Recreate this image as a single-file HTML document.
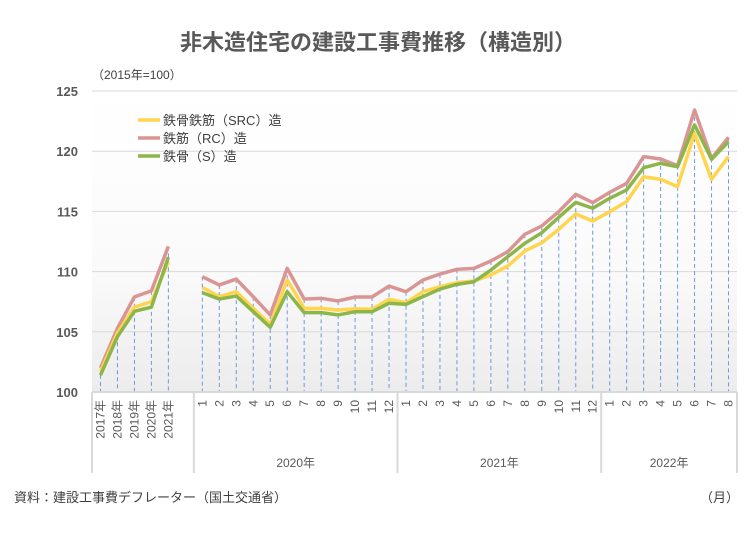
<!DOCTYPE html>
<html><head><meta charset="utf-8"><style>
body{margin:0;background:#fff;}
svg text{font-family:"Liberation Sans","Noto Sans CJK JP",sans-serif;}
</style></head><body>
<svg width="756" height="529" xmlns="http://www.w3.org/2000/svg">
<defs><linearGradient id="bg" x1="0" y1="0" x2="0" y2="1">
<stop offset="0" stop-color="#ffffff"/><stop offset="0.6" stop-color="#fafafa"/><stop offset="1" stop-color="#ececec"/></linearGradient></defs>
<rect x="0" y="0" width="756" height="529" fill="#fff"/>
<rect x="92" y="91" width="645" height="301" fill="url(#bg)"/>
<text x="378" y="50" text-anchor="middle" font-size="22" font-weight="bold" fill="#595959">非木造住宅の建設工事費推移（構造別）</text>
<text x="92" y="79" font-size="12" fill="#404040">（2015年=100）</text>
<g id="grid"></g><g id="drops"></g><g id="series"></g><g id="xaxis"></g>
<g>
<line x1="138" y1="120" x2="160" y2="120" stroke="#FFD54F" stroke-width="3.5"/>
<text x="163" y="125" font-size="13" fill="#404040">鉄骨鉄筋（SRC）造</text>
<line x1="138" y1="138" x2="160" y2="138" stroke="#D99594" stroke-width="3.5"/>
<text x="163" y="143" font-size="13" fill="#404040">鉄筋（RC）造</text>
<line x1="138" y1="156" x2="160" y2="156" stroke="#8DB64A" stroke-width="3.5"/>
<text x="163" y="161" font-size="13" fill="#404040">鉄骨（S）造</text>
</g>
<text x="14" y="502" font-size="13" fill="#404040">資料：建設工事費デフレーター（国土交通省）</text>
<text x="700" y="502" font-size="13" fill="#404040">（月）</text>
</svg>
<script>
const annualLabels=["2017年","2018年","2019年","2020年","2021年"];
const monthLabels=["1","2","3","4","5","6","7","8","9","10","11","12","1","2","3","4","5","6","7","8","9","10","11","12","1","2","3","4","5","6","7","8"];
const groupLabels=["2020年","2021年","2022年"];
const groupSizes=[12,12,8];
const yTicks=[100,105,110,115,120,125];
const srcAnnual=[101.7,104.9,107.05,107.5,110.8];
const rcAnnual=[102.0,105.3,107.9,108.4,112.1];
const sAnnual=[101.4,104.6,106.7,107.05,111.2];
const srcMonthly=[108.69,107.92,108.33,106.95,105.62,109.3,106.95,106.95,106.81,106.9,106.87,107.7,107.42,108.33,108.75,109.08,109.22,109.72,110.47,111.71,112.4,113.51,114.78,114.2,114.98,115.81,117.88,117.66,117.06,121.48,117.66,119.55];
const rcMonthly=[109.58,108.89,109.38,107.91,106.4,110.27,107.72,107.78,107.56,107.89,107.89,108.8,108.33,109.3,109.8,110.19,110.27,110.88,111.66,113.1,113.79,114.98,116.42,115.73,116.58,117.33,119.55,119.35,118.8,123.42,119.4,121.15];
const sMonthly=[108.25,107.72,107.97,106.67,105.37,108.33,106.59,106.59,106.4,106.67,106.67,107.37,107.28,107.92,108.55,108.94,109.16,110.13,111.24,112.35,113.23,114.51,115.75,115.26,116.09,116.78,118.63,118.99,118.71,122.18,119.33,120.79];

const NS="http://www.w3.org/2000/svg";
const X0=92,X1=737,Y0=392,Y1=91,YMIN=100,YMAX=125;
const nSlots=annualLabels.length+1+monthLabels.length;
const slot=(X1-X0)/nSlots;
const y=v=>Y0-(v-YMIN)/(YMAX-YMIN)*(Y0-Y1);
const xA=i=>X0+slot*(i+0.5);
const xM=i=>X0+slot*(annualLabels.length+1+i+0.5);
function mk(tag,attrs,parent){const e=document.createElementNS(NS,tag);for(const k in attrs)e.setAttribute(k,attrs[k]);document.getElementById(parent).appendChild(e);return e;}

yTicks.forEach(t=>{
 if(t>YMIN){const l=mk("line",{x1:X0,x2:X1,y1:y(t),y2:y(t),stroke:"#d9d9d9","stroke-width":1},"grid");
 
 }
 const tx=mk("text",{x:78,y:y(t)+5,"text-anchor":"end","font-size":"13","font-weight":"bold",fill:"#595959"},"grid");
 tx.textContent=t;
 
 
});

const allSeries=[["src",srcAnnual,srcMonthly,"#FFD54F"],["rc",rcAnnual,rcMonthly,"#D99594"],["s",sAnnual,sMonthly,"#8DB64A"]];
// drop lines to the top series value
function topAt(a,i){return Math.max(...allSeries.map(s=>s[a][i]));}
annualLabels.forEach((_,i)=>{const l=mk("line",{x1:xA(i),x2:xA(i),y1:y(topAt(1,i)),y2:Y0,stroke:"#6f97de","stroke-width":1,"stroke-dasharray":"4,3"},"drops");
 
 });
monthLabels.forEach((_,i)=>{const l=mk("line",{x1:xM(i),x2:xM(i),y1:y(topAt(2,i)),y2:Y0,stroke:"#6f97de","stroke-width":1,"stroke-dasharray":"4,3"},"drops");
 
 });

[1,0,2].forEach(k=>{const s=allSeries[k];
 const pa=s[1].map((v,i)=>xA(i)+","+y(v)).join(" ");
 const pm=s[2].map((v,i)=>xM(i)+","+y(v)).join(" ");
 const a=mk("polyline",{points:pa,fill:"none",stroke:s[3],"stroke-width":3.5,"stroke-linejoin":"round"},"series");
 
 
 const m=mk("polyline",{points:pm,fill:"none",stroke:s[3],"stroke-width":3.5,"stroke-linejoin":"round"},"series");
 
 
});

// x axis
const ax=mk("line",{x1:X0,x2:X1,y1:Y0,y2:Y0,stroke:"#d9d9d9","stroke-width":2},"xaxis");


let seps=[X0,X0+slot*(annualLabels.length+1)];
let acc=annualLabels.length+1;
groupSizes.forEach(g=>{acc+=g;seps.push(X0+slot*acc);});
seps.forEach(sx=>{const l=mk("line",{x1:sx,x2:sx,y1:Y0,y2:473,stroke:"#d9d9d9","stroke-width":2},"xaxis");
 
 });
annualLabels.forEach((t,i)=>{const tx=mk("text",{x:0,y:0,"font-size":"12",fill:"#595959","text-anchor":"end",transform:`translate(${xA(i)+4},400) rotate(-90)`},"xaxis");
 tx.textContent=t;
 
 });
monthLabels.forEach((t,i)=>{const tx=mk("text",{x:0,y:0,"font-size":"12",fill:"#595959","text-anchor":"end",transform:`translate(${xM(i)+4},400) rotate(-90)`},"xaxis");
 tx.textContent=t;
 
 });
groupLabels.forEach((t,i)=>{const tx=mk("text",{x:(seps[i+1]+seps[i+2])/2,y:467,"font-size":"12",fill:"#595959","text-anchor":"middle"},"xaxis");
 tx.textContent=t;
 
 });
</script>
</body></html>
